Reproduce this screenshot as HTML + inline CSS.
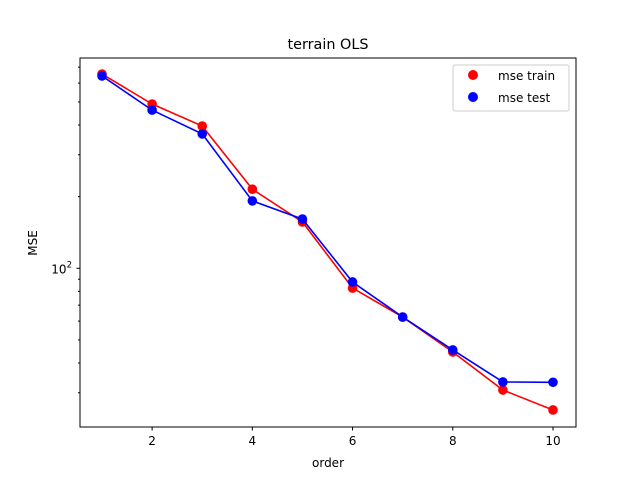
<!DOCTYPE html>
<html><head><meta charset="utf-8"><style>
body{margin:0;background:#fff;font-family:"Liberation Sans","DejaVu Sans",sans-serif}
</style></head><body>
<svg width="640" height="480" xmlns="http://www.w3.org/2000/svg" font-family="DejaVu Sans, Liberation Sans, sans-serif">
<rect width="640" height="480" fill="#fff"/>
<text x="328" y="49" text-anchor="middle" font-size="14.4">terrain OLS</text>
<g id="ticks"></g>
<g id="plot"></g>
<rect x="80" y="58" width="496" height="369" fill="none" stroke="#000" stroke-width="1"/>
<text x="328" y="467" text-anchor="middle" font-size="12">order</text>
<text transform="translate(37,243) rotate(-90)" text-anchor="middle" font-size="12">MSE</text>
<g>
<rect x="453" y="65" width="116" height="46" rx="2" fill="#fff" stroke="#ccc"/>
<circle cx="473" cy="75" r="5" fill="red"/>
<text x="498" y="80" font-size="12">mse train</text>
<circle cx="473" cy="97" r="5" fill="blue"/>
<text x="498" y="102" font-size="12">mse test</text>
</g>
</svg>
<script>
const orders=[1,2,3,4,5,6,7,8,9,10];
const mseTrain=[655,490,396,215,156.5,82.6,62.4,44.5,30.8,25.4];
const mseTest=[643,462,367,192,161,87.6,62.4,45.4,33.3,33.2];
const xTicks=[2,4,6,8,10];
const yMinor=[30,40,50,60,70,80,90,200,300,400,500,600,700];
const NS="http://www.w3.org/2000/svg";
const sx=v=>102+(v-1)*50.11;
const sy=v=>268.3-238*Math.log10(v/100);
function mk(t,a,p){const e=document.createElementNS(NS,t);for(const k in a)e.setAttribute(k,a[k]);p.appendChild(e);return e;}
const tg=document.getElementById('ticks'),pg=document.getElementById('plot');
xTicks.forEach(t=>{const l=mk('line',{x1:sx(t),x2:sx(t),y1:427,y2:430.5,stroke:'#000'},tg);


const tx=mk('text',{x:sx(t),y:445,'text-anchor':'middle','font-size':12},tg);tx.textContent=t;

});
yMinor.forEach(t=>{const l=mk('line',{x1:78,x2:80,y1:sy(t),y2:sy(t),stroke:'#000'},tg);

});
const ml=mk('line',{x1:76.5,x2:80,y1:sy(100),y2:sy(100),stroke:'#000'},tg);


const yl=mk('text',{x:72,y:sy(100)+5,'text-anchor':'end','font-size':12},tg);
yl.innerHTML='10<tspan font-size="8.5" dy="-6">2</tspan>';


function series(vals,color,name){
const pl=mk('polyline',{points:vals.map((v,i)=>sx(orders[i])+','+sy(v)).join(' '),fill:'none',stroke:color,'stroke-width':1.6},pg);


vals.forEach((v,i)=>{const c=mk('circle',{cx:sx(orders[i]),cy:sy(v),r:4.8,fill:color},pg);

});}
series(mseTrain,'red','mse-train');
series(mseTest,'blue','mse-test');
</script>
</body></html>
